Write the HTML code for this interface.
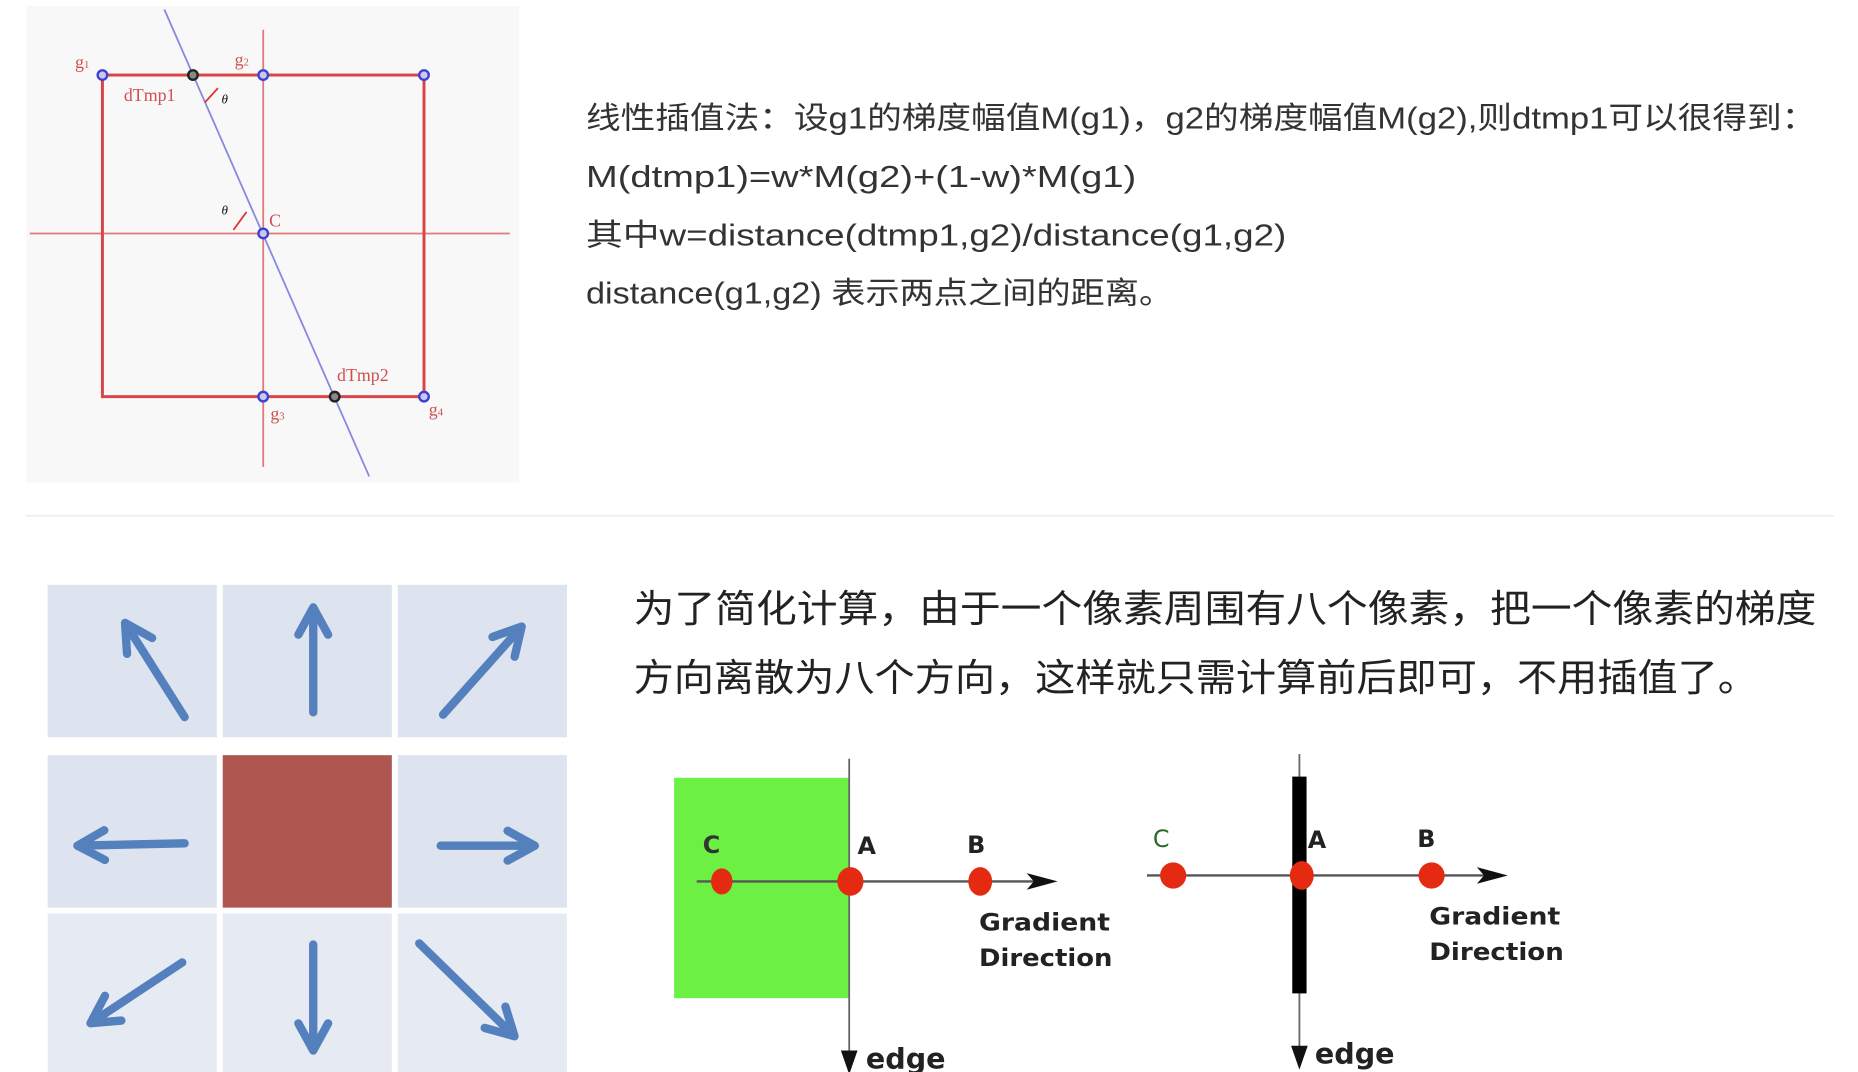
<!DOCTYPE html>
<html><head><meta charset="utf-8">
<style>
html,body{margin:0;padding:0;background:#fff;}
svg{display:block;}
.cjk{font-family:"Liberation Sans","Noto Sans CJK SC",sans-serif;}
.serif{font-family:"Liberation Serif",serif;}
.dj{font-family:"DejaVu Sans",sans-serif;font-weight:bold;}
</style></head>
<body>
<svg id="root" width="1858" height="1072" viewBox="0 0 1560 900" preserveAspectRatio="none" xmlns="http://www.w3.org/2000/svg">
  <!-- Top-left interpolation diagram -->
  <g>
    <rect x="22" y="5" width="414" height="400" fill="#f8f8f8"/>
    <line x1="221" y1="25" x2="221" y2="392" stroke="#e07a7a" stroke-width="1.5"/>
    <line x1="25" y1="196" x2="428" y2="196" stroke="#e07a7a" stroke-width="1.5"/>
    <rect x="86" y="63" width="270" height="270" fill="none" stroke="#d94545" stroke-width="2.5"/>
    <line x1="138" y1="8" x2="310" y2="400" stroke="#8888e0" stroke-width="1.5"/>
    <g fill="#c8c8f0" stroke="#4040d0" stroke-width="2">
      <circle cx="86" cy="63" r="4"/>
      <circle cx="221" cy="63" r="4"/>
      <circle cx="356" cy="63" r="4"/>
      <circle cx="221" cy="196" r="4"/>
      <circle cx="221" cy="333" r="4"/>
      <circle cx="356" cy="333" r="4"/>
    </g>
    <g fill="#888" stroke="#222" stroke-width="2">
      <circle cx="162" cy="63" r="4"/>
      <circle cx="281" cy="333" r="4"/>
    </g>
    <g class="serif" fill="#d05050" font-size="15">
      <text x="63" y="57">g<tspan font-size="9">1</tspan></text>
      <text x="197" y="55">g<tspan font-size="9">2</tspan></text>
      <text x="104" y="85">dTmp1</text>
      <text x="226" y="190">C</text>
      <text x="283" y="320">dTmp2</text>
      <text x="227" y="352">g<tspan font-size="9">3</tspan></text>
      <text x="360" y="349">g<tspan font-size="9">4</tspan></text>
    </g>
    <g stroke="#e03030" stroke-width="1.5" fill="none">
      <path d="M172,86 L183,74"/>
      <path d="M196,193 L207,178"/>
    </g>
    <g class="serif" font-style="italic" font-size="11" fill="#111">
      <text x="186" y="87">θ</text>
      <text x="186" y="180">θ</text>
    </g>
  </g>

  <!-- Top-right text -->
  <g class="cjk" fill="#333" font-size="26">
    <text x="492" y="108" textLength="1033" lengthAdjust="spacingAndGlyphs">线性插值法：设g1的梯度幅值M(g1)，g2的梯度幅值M(g2),则dtmp1可以很得到：</text>
    <text x="492" y="157" textLength="462" lengthAdjust="spacingAndGlyphs">M(dtmp1)=w*M(g2)+(1-w)*M(g1)</text>
    <text x="492" y="206" textLength="588" lengthAdjust="spacingAndGlyphs">其中w=distance(dtmp1,g2)/distance(g1,g2)</text>
    <text x="492" y="255" textLength="493" lengthAdjust="spacingAndGlyphs">distance(g1,g2) 表示两点之间的距离。</text>
  </g>

  <line x1="22" y1="433" x2="1540" y2="433" stroke="#eeeeee" stroke-width="1.5"/>

  <!-- 3x3 direction grid -->
  <g id="grid"></g>

  <!-- Bottom text -->
  <g class="cjk" fill="#222" font-size="32">
    <text x="532" y="522" textLength="993" lengthAdjust="spacingAndGlyphs">为了简化计算，由于一个像素周围有八个像素，把一个像素的梯度</text>
    <text x="532" y="580" textLength="944" lengthAdjust="spacingAndGlyphs">方向离散为八个方向，这样就只需计算前后即可，不用插值了。</text>
  </g>

  <!-- Edge diagram 1 -->
  <g>
    <rect x="566" y="653" width="147" height="185" fill="#6cf044"/>
    <line x1="713" y1="637" x2="713" y2="895" stroke="#666" stroke-width="1.5"/>
    <path d="M706,882 L713,902 L720,882 Z" fill="#111"/>
    <line x1="585" y1="740" x2="875" y2="740" stroke="#555" stroke-width="2"/>
    <path d="M862,733 L888,740 L862,747 L868,740 Z" fill="#111"/>
    <g fill="#e52a12">
      <ellipse cx="606" cy="740" rx="9" ry="11"/>
      <ellipse cx="714" cy="740" rx="11" ry="12"/>
      <ellipse cx="823" cy="740" rx="10" ry="12"/>
    </g>
    <g class="dj" font-size="20" fill="#222">
      <text x="590" y="716" fill="#333">C</text>
      <text x="720" y="717">A</text>
      <text x="812" y="716">B</text>
      <text x="822" y="781" textLength="110" lengthAdjust="spacingAndGlyphs">Gradient</text>
      <text x="822" y="811" textLength="112" lengthAdjust="spacingAndGlyphs">Direction</text>
      <text x="727" y="897" font-size="24">edge</text>
    </g>
  </g>

  <!-- Edge diagram 2 -->
  <g>
    <line x1="1091" y1="633" x2="1091" y2="892" stroke="#666" stroke-width="1.5"/>
    <rect x="1085" y="652" width="12" height="182" fill="#000"/>
    <path d="M1084,878 L1091,898 L1098,878 Z" fill="#111"/>
    <line x1="963" y1="735" x2="1252" y2="735" stroke="#555" stroke-width="2"/>
    <path d="M1240,728 L1266,735 L1240,742 L1246,735 Z" fill="#111"/>
    <g fill="#e52a12">
      <ellipse cx="985" cy="735" rx="11" ry="11"/>
      <ellipse cx="1093" cy="735" rx="10" ry="12"/>
      <ellipse cx="1202" cy="735" rx="11" ry="11"/>
    </g>
    <g class="dj" font-size="20" fill="#222">
      <text x="968" y="711" fill="#2a6a2a" font-weight="normal">C</text>
      <text x="1098" y="712">A</text>
      <text x="1190" y="711">B</text>
      <text x="1200" y="776" textLength="110" lengthAdjust="spacingAndGlyphs">Gradient</text>
      <text x="1200" y="806" textLength="113" lengthAdjust="spacingAndGlyphs">Direction</text>
      <text x="1104" y="893" font-size="24">edge</text>
    </g>
  </g>
</svg>
<script>
const NS = "http://www.w3.org/2000/svg";
const cellNames = ["up-left","up","up-right","left","center","right","down-left","down","down-right"];
const arrowFrom = [[155,602],[263,598],[372,600],[155,708],null,[370,710],[153,808],[263,793],[352,792]];
const arrowTo   = [[105,523],[263,510],[438,526],[65,710],null,[449,710],[76,859],[263,882],[432,870]];
const grid = document.getElementById('grid');
const colX = [40,187,334], rowY = [491,634,767], rowH = [128,128,135];
for (let i = 0; i < 9; i++) {
  const r = Math.floor(i/3), c = i%3;
  const rect = document.createElementNS(NS,'rect');
  rect.setAttribute('x', colX[c]); rect.setAttribute('y', rowY[r]);
  rect.setAttribute('width', 142); rect.setAttribute('height', rowH[r]);
  rect.setAttribute('fill', i===4 ? '#b05650' : (r===2 ? '#e6eaf3' : '#dde3ef'));
  
  
  grid.appendChild(rect);
  if (!arrowFrom[i]) continue;
  const [x1,y1] = arrowFrom[i], [x2,y2] = arrowTo[i];
  const g = document.createElementNS(NS,'g');
  
  
  g.setAttribute('stroke', '#5480bd'); g.setAttribute('stroke-width', '7');
  g.setAttribute('stroke-linecap', 'round'); g.setAttribute('stroke-linejoin', 'round'); g.setAttribute('fill', 'none');
  const ang = Math.atan2(y2-y1, x2-x1), L = 26, a = 0.5;
  const p = document.createElementNS(NS,'path');
  p.setAttribute('d', `M${x1},${y1} L${x2},${y2} M${x2-L*Math.cos(ang-a)},${y2-L*Math.sin(ang-a)} L${x2},${y2} L${x2-L*Math.cos(ang+a)},${y2-L*Math.sin(ang+a)}`);
  g.appendChild(p);
  grid.appendChild(g);
}
</script>
</body></html>
